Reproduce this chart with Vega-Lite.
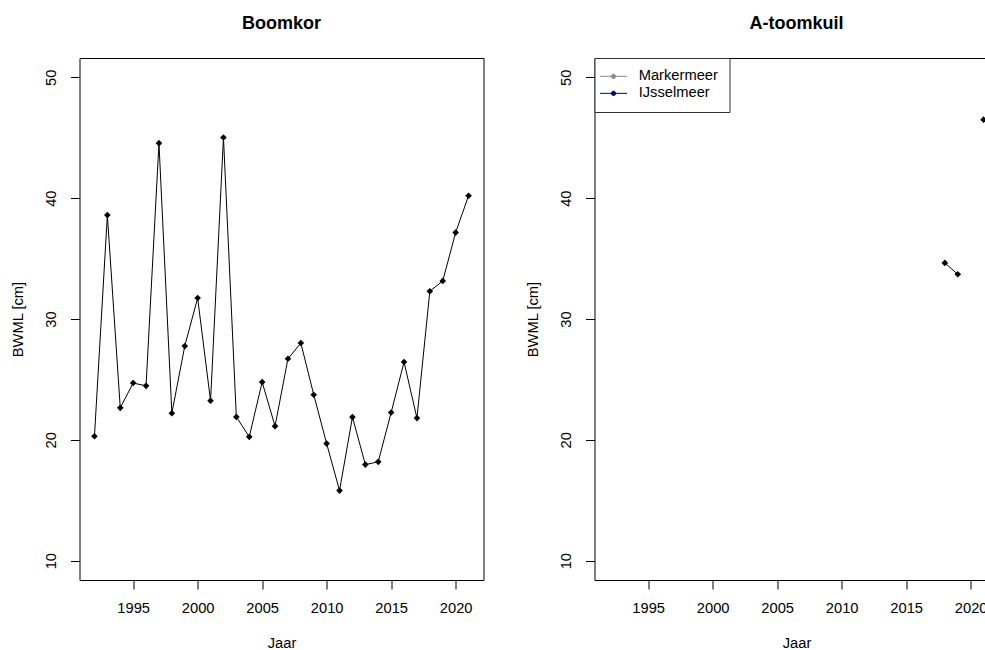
{
  "$schema": "https://vega.github.io/schema/vega-lite/v6.json",
  "background": "white",
  "padding": {"left": 9.5, "top": 14, "right": 0, "bottom": 0},
  "spacing": 111,
  "bounds": "flush",
  "config": {
    "font": "Liberation Sans",
    "view": {"stroke": "#000", "strokeWidth": 1},
    "axis": {
      "grid": false,
      "domain": false,
      "tickColor": "#000",
      "tickSize": 9,
      "tickWidth": 1,
      "labelColor": "#000",
      "labelFont": "Liberation Sans",
      "labelFontSize": 14.7,
      "labelFontWeight": "normal",
      "labelFlush": false,
      "labelOverlap": false,
      "titleColor": "#000",
      "titleFont": "Liberation Sans",
      "titleFontSize": 14.7,
      "titleFontWeight": "normal"
    },
    "axisX": {
      "labelPadding": 11.5,
      "titleY": 67,
      "titleBaseline": "alphabetic",
      "titleAlign": "center"
    },
    "axisY": {
      "labelAngle": 270,
      "labelAlign": "center",
      "labelBaseline": "alphabetic",
      "labelPadding": 15,
      "titleAngle": 270,
      "titleX": -57.3,
      "titleY": 261,
      "titleAlign": "center",
      "titleBaseline": "alphabetic"
    },
    "title": {
      "font": "Liberation Sans",
      "fontSize": 18,
      "fontWeight": "bold",
      "color": "#000",
      "anchor": "middle",
      "frame": "group",
      "baseline": "alphabetic",
      "offset": 25.5
    }
  },
  "datasets": {
    "boomkor": [
      {"jaar": 1992, "bwml": 20.3},
      {"jaar": 1993, "bwml": 38.6},
      {"jaar": 1994, "bwml": 22.65},
      {"jaar": 1995, "bwml": 24.7},
      {"jaar": 1996, "bwml": 24.47},
      {"jaar": 1997, "bwml": 44.55},
      {"jaar": 1998, "bwml": 22.2},
      {"jaar": 1999, "bwml": 27.76},
      {"jaar": 2000, "bwml": 31.74},
      {"jaar": 2001, "bwml": 23.23},
      {"jaar": 2002, "bwml": 45.02},
      {"jaar": 2003, "bwml": 21.9},
      {"jaar": 2004, "bwml": 20.25},
      {"jaar": 2005, "bwml": 24.78},
      {"jaar": 2006, "bwml": 21.13},
      {"jaar": 2007, "bwml": 26.71},
      {"jaar": 2008, "bwml": 28.01},
      {"jaar": 2009, "bwml": 23.73},
      {"jaar": 2010, "bwml": 19.69},
      {"jaar": 2011, "bwml": 15.8},
      {"jaar": 2012, "bwml": 21.88},
      {"jaar": 2013, "bwml": 17.95},
      {"jaar": 2014, "bwml": 18.18},
      {"jaar": 2015, "bwml": 22.26},
      {"jaar": 2016, "bwml": 26.44},
      {"jaar": 2017, "bwml": 21.8},
      {"jaar": 2018, "bwml": 32.3},
      {"jaar": 2019, "bwml": 33.15},
      {"jaar": 2020, "bwml": 37.15},
      {"jaar": 2021, "bwml": 40.2}
    ],
    "toomkuil": [
      {"jaar": 2018, "bwml": 34.64},
      {"jaar": 2019, "bwml": 33.7},
      {"jaar": 2020, "bwml": null},
      {"jaar": 2021, "bwml": 46.5}
    ],
    "meren": [
      {"meer": "Markermeer", "jaar": null, "bwml": null},
      {"meer": "IJsselmeer", "jaar": null, "bwml": null}
    ]
  },
  "hconcat": [
    {
      "width": 404,
      "height": 522,
      "title": "Boomkor",
      "data": {"name": "boomkor"},
      "encoding": {
        "x": {
          "field": "jaar", "type": "quantitative",
          "scale": {"domain": [1990.84, 2022.16], "nice": false, "zero": false},
          "axis": {"values": [1995, 2000, 2005, 2010, 2015, 2020], "format": "d", "title": "Jaar"}
        },
        "y": {
          "field": "bwml", "type": "quantitative",
          "scale": {"domain": [8.4, 51.6], "nice": false, "zero": false},
          "axis": {"values": [10, 20, 30, 40, 50], "title": "BWML [cm]"}
        }
      },
      "layer": [
        {"mark": {"type": "line", "color": "#000", "strokeWidth": 1, "clip": true}},
        {"mark": {"type": "point", "shape": "diamond", "filled": true, "color": "#000", "opacity": 1, "size": 44, "clip": true}}
      ]
    },
    {
      "width": 404,
      "height": 522,
      "title": "A-toomkuil",
      "layer": [
        {
          "data": {"name": "toomkuil"},
          "mark": {"type": "line", "color": "#000", "strokeWidth": 1, "clip": true},
          "encoding": {
            "x": {
              "field": "jaar", "type": "quantitative",
              "scale": {"domain": [1990.84, 2022.16], "nice": false, "zero": false},
              "axis": {"values": [1995, 2000, 2005, 2010, 2015, 2020], "format": "d", "title": "Jaar"}
            },
            "y": {
              "field": "bwml", "type": "quantitative",
              "scale": {"domain": [8.4, 51.6], "nice": false, "zero": false},
              "axis": {"values": [10, 20, 30, 40, 50], "title": "BWML [cm]"}
            }
          }
        },
        {
          "data": {"name": "toomkuil"},
          "mark": {"type": "point", "shape": "diamond", "filled": true, "color": "#000", "opacity": 1, "size": 44, "clip": true},
          "encoding": {
            "x": {"field": "jaar", "type": "quantitative"},
            "y": {"field": "bwml", "type": "quantitative"}
          }
        },
        {
          "data": {"name": "meren"},
          "mark": {"type": "point", "filled": true, "opacity": 1, "size": 10},
          "encoding": {
            "x": {"field": "jaar", "type": "quantitative"},
            "y": {"field": "bwml", "type": "quantitative"},
            "fill": {
              "field": "meer", "type": "nominal",
              "scale": {"domain": ["Markermeer", "IJsselmeer"], "range": ["#8c8c8c", "#00008b"]},
              "legend": {
                "orient": "none", "legendX": 515, "legendY": 0, "title": null,
                "symbolType": "M-2.7,0L2.7,0M-0.44,0A0.44,0.44,0,1,0,0.44,0A0.44,0.44,0,1,0,-0.44,0Z",
                "symbolSize": 100, "symbolStrokeWidth": 1, "symbolOffset": 0.7,
                "labelFontSize": 14.7, "labelColor": "#000", "labelFont": "Liberation Sans", "labelOffset": 17.8,
                "padding": 11, "rowPadding": 1, "strokeColor": "#333", "fillColor": "white"
              }
            },
            "stroke": {
              "field": "meer", "type": "nominal",
              "scale": {"domain": ["Markermeer", "IJsselmeer"], "range": ["#8c8c8c", "#00008b"]},
              "legend": {
                "orient": "none", "legendX": 515, "legendY": 0, "title": null,
                "symbolType": "M-2.7,0L2.7,0M-0.44,0A0.44,0.44,0,1,0,0.44,0A0.44,0.44,0,1,0,-0.44,0Z",
                "symbolSize": 100, "symbolStrokeWidth": 1, "symbolOffset": 0.7,
                "labelFontSize": 14.7, "labelColor": "#000", "labelFont": "Liberation Sans", "labelOffset": 17.8,
                "padding": 11, "rowPadding": 1, "strokeColor": "#333", "fillColor": "white"
              }
            }
          }
        }
      ]
    }
  ]
}
